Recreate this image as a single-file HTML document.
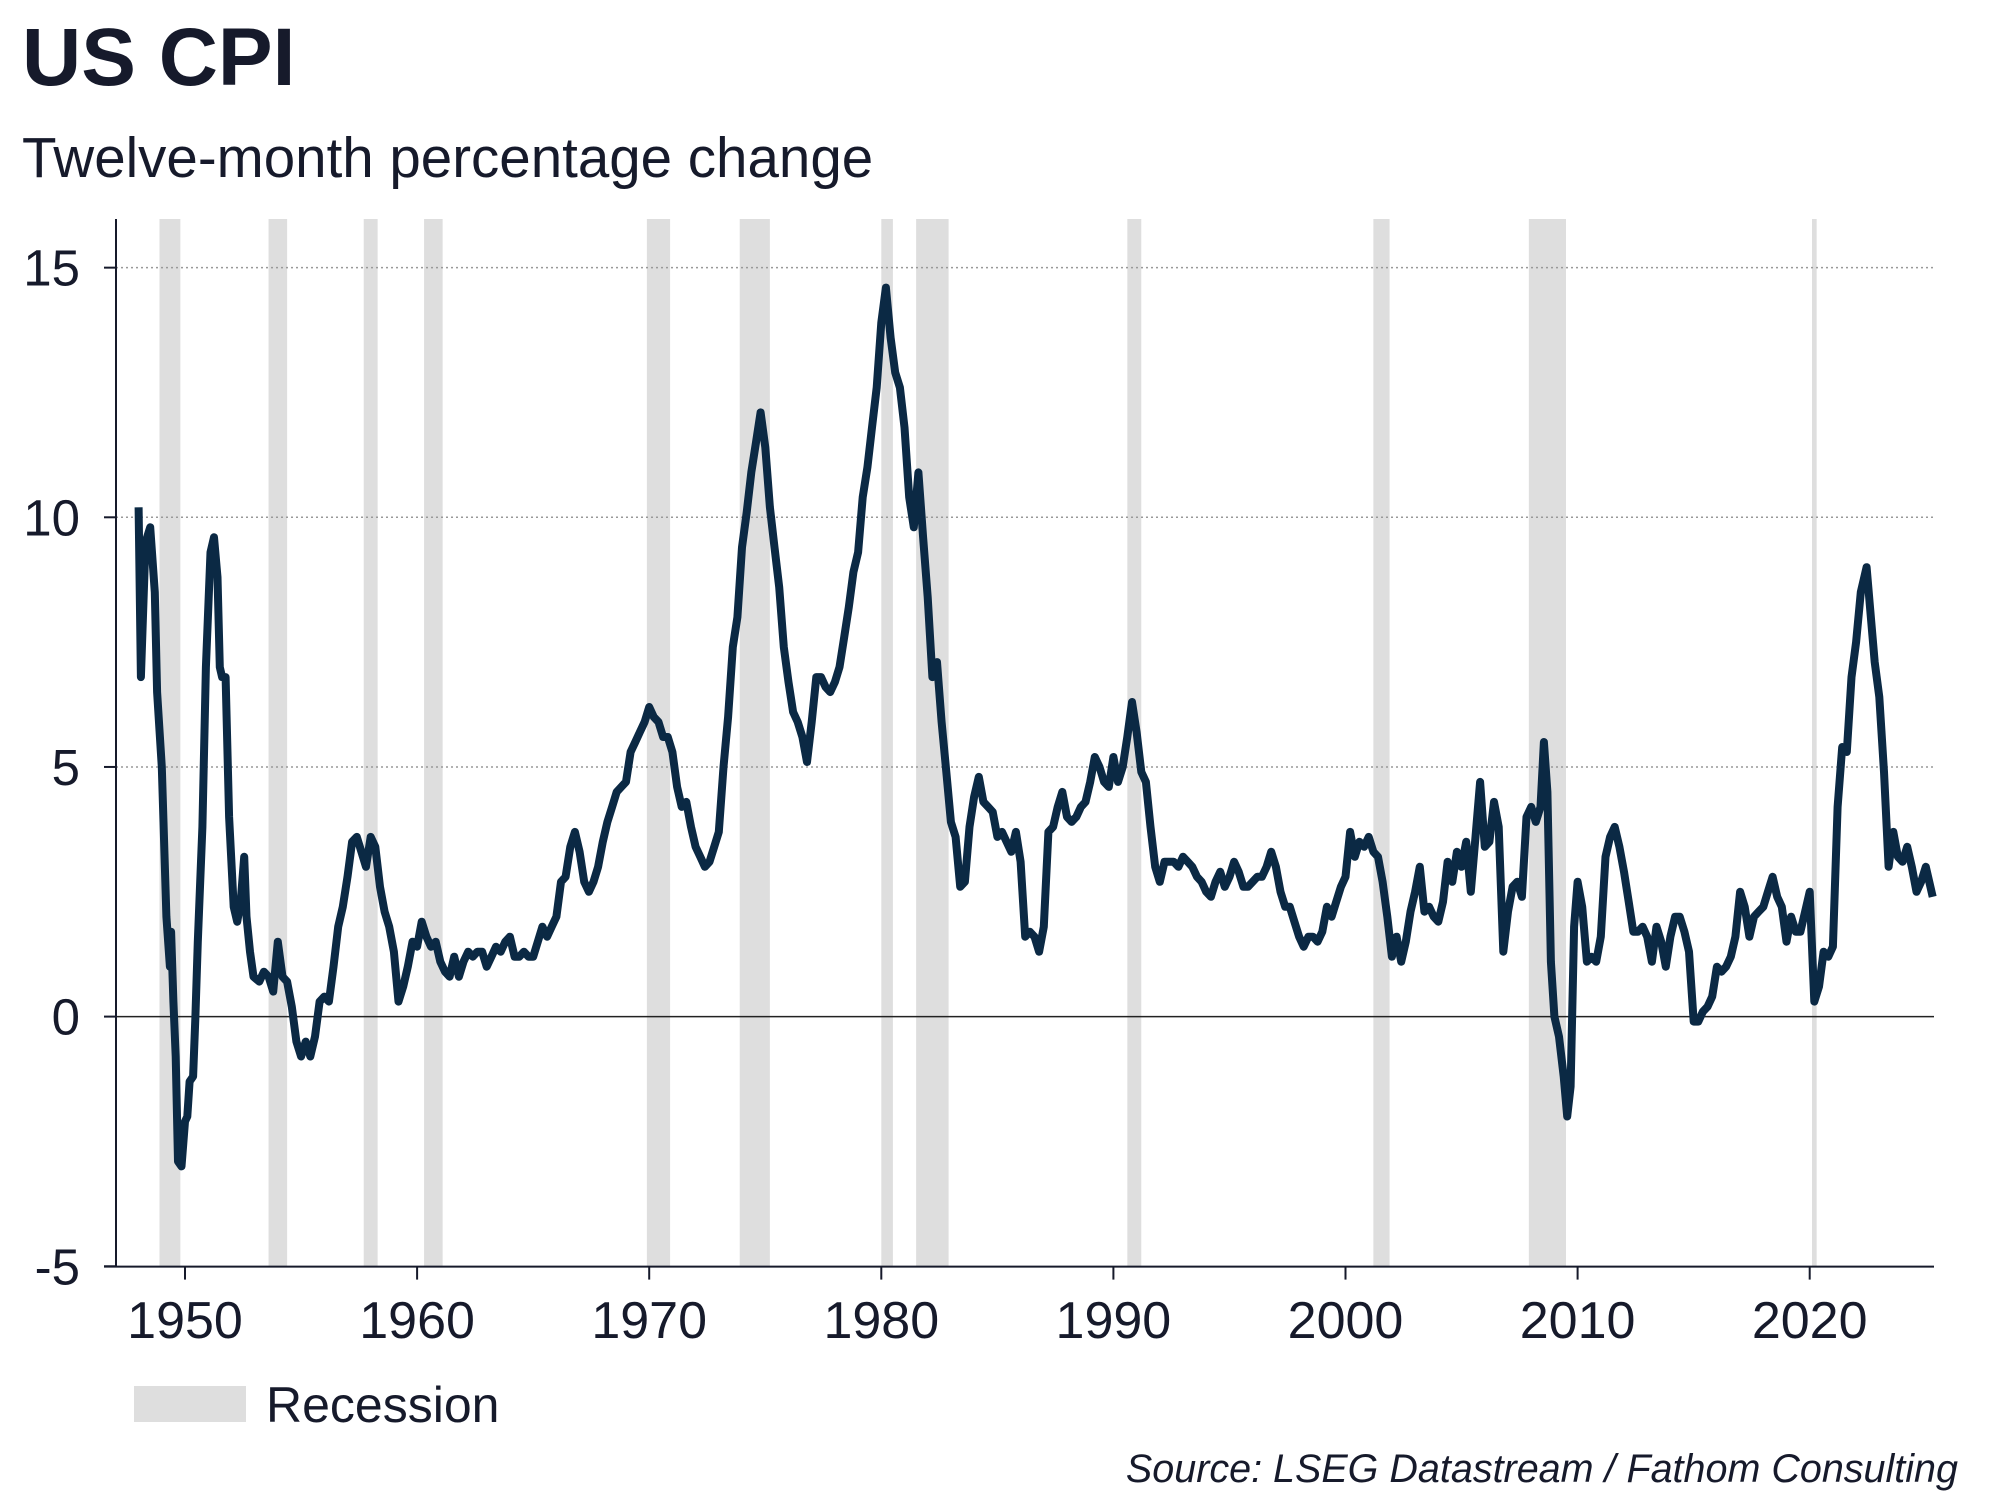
<!DOCTYPE html>
<html><head><meta charset="utf-8"><style>
html,body{margin:0;padding:0;background:#fff;}
body{width:2000px;height:1500px;overflow:hidden;position:relative;font-family:"Liberation Sans",Arial,sans-serif;color:#161a2b;}
</style></head><body>
<svg id="chart" width="2000" height="1500" viewBox="0 0 2000 1500" xmlns="http://www.w3.org/2000/svg" style="position:absolute;left:0;top:0">
<text x="22" y="85" font-size="82" font-weight="bold" fill="#161a2b" font-family="Liberation Sans, sans-serif">US CPI</text>
<text x="22" y="177" font-size="56.5" fill="#161a2b" font-family="Liberation Sans, sans-serif">Twelve-month percentage change</text>
<g id="bands"></g>
<g id="grid"></g>
<g id="axes"></g>
<path id="line" fill="none" stroke="#0b2944" stroke-width="8" stroke-linejoin="round"/>
<rect x="134" y="1386" width="112" height="36" fill="#dedede"/>
<text x="266" y="1422" font-size="50" fill="#161a2b" font-family="Liberation Sans, sans-serif">Recession</text>
<text x="1958" y="1482" text-anchor="end" font-size="39.5" font-style="italic" fill="#161a2b" font-family="Liberation Sans, sans-serif">Source: LSEG Datastream / Fathom Consulting</text>
</svg>
<script>
const yTicks=[-5,0,5,10,15];
const xTicks=[1950,1960,1970,1980,1990,2000,2010,2020];
const recStart=[1948.9,1953.6,1957.7,1960.3,1969.9,1973.9,1980.0,1981.5,1990.6,2001.2,2007.9,2020.1];
const recEnd=[1949.8,1954.4,1958.3,1961.1,1970.9,1975.2,1980.5,1982.9,1991.2,2001.9,2009.5,2020.3];
const years=[1948.0,1948.1,1948.3,1948.5,1948.7,1948.8,1949.0,1949.2,1949.35,1949.4,1949.5,1949.6,1949.7,1949.85,1950.0,1950.1,1950.2,1950.35,1950.45,1950.55,1950.75,1950.9,1951.1,1951.25,1951.4,1951.5,1951.6,1951.75,1951.9,1952.1,1952.25,1952.4,1952.55,1952.65,1952.8,1952.95,1953.2,1953.4,1953.6,1953.8,1954.0,1954.2,1954.4,1954.6,1954.8,1955.0,1955.2,1955.4,1955.6,1955.8,1956.0,1956.2,1956.4,1956.6,1956.8,1957.0,1957.2,1957.4,1957.6,1957.8,1958.0,1958.2,1958.4,1958.6,1958.8,1959.0,1959.2,1959.4,1959.6,1959.8,1960.0,1960.2,1960.4,1960.6,1960.8,1961.0,1961.2,1961.4,1961.6,1961.8,1962.0,1962.2,1962.4,1962.6,1962.8,1963.0,1963.2,1963.4,1963.6,1963.8,1964.0,1964.2,1964.4,1964.6,1964.8,1965.0,1965.2,1965.4,1965.6,1965.8,1966.0,1966.2,1966.4,1966.6,1966.8,1967.0,1967.2,1967.4,1967.6,1967.8,1968.0,1968.2,1968.4,1968.6,1968.8,1969.0,1969.2,1969.4,1969.6,1969.8,1970.0,1970.2,1970.4,1970.6,1970.8,1971.0,1971.2,1971.4,1971.6,1971.8,1972.0,1972.2,1972.4,1972.6,1972.8,1973.0,1973.2,1973.4,1973.6,1973.8,1974.0,1974.2,1974.4,1974.6,1974.8,1975.0,1975.2,1975.4,1975.6,1975.8,1976.0,1976.2,1976.4,1976.6,1976.8,1977.0,1977.2,1977.4,1977.6,1977.8,1978.0,1978.2,1978.4,1978.6,1978.8,1979.0,1979.2,1979.4,1979.6,1979.8,1980.0,1980.2,1980.4,1980.6,1980.8,1981.0,1981.2,1981.4,1981.6,1981.8,1982.0,1982.2,1982.4,1982.6,1982.8,1983.0,1983.2,1983.4,1983.6,1983.8,1984.0,1984.2,1984.4,1984.6,1984.8,1985.0,1985.2,1985.4,1985.6,1985.8,1986.0,1986.2,1986.4,1986.6,1986.8,1987.0,1987.2,1987.4,1987.6,1987.8,1988.0,1988.2,1988.4,1988.6,1988.8,1989.0,1989.2,1989.4,1989.6,1989.8,1990.0,1990.2,1990.4,1990.6,1990.8,1991.0,1991.2,1991.4,1991.6,1991.8,1992.0,1992.2,1992.4,1992.6,1992.8,1993.0,1993.2,1993.4,1993.6,1993.8,1994.0,1994.2,1994.4,1994.6,1994.8,1995.0,1995.2,1995.4,1995.6,1995.8,1996.0,1996.2,1996.4,1996.6,1996.8,1997.0,1997.2,1997.4,1997.6,1997.8,1998.0,1998.2,1998.4,1998.6,1998.8,1999.0,1999.2,1999.4,1999.6,1999.8,2000.0,2000.2,2000.4,2000.6,2000.8,2001.0,2001.2,2001.4,2001.6,2001.8,2002.0,2002.2,2002.4,2002.6,2002.8,2003.0,2003.2,2003.4,2003.6,2003.8,2004.0,2004.2,2004.4,2004.6,2004.8,2005.0,2005.2,2005.4,2005.6,2005.8,2006.0,2006.2,2006.4,2006.6,2006.8,2007.0,2007.2,2007.4,2007.6,2007.8,2008.0,2008.2,2008.4,2008.55,2008.7,2008.85,2009.0,2009.2,2009.4,2009.55,2009.7,2009.85,2010.0,2010.2,2010.4,2010.6,2010.8,2011.0,2011.2,2011.4,2011.6,2011.8,2012.0,2012.2,2012.4,2012.6,2012.8,2013.0,2013.2,2013.4,2013.6,2013.8,2014.0,2014.2,2014.4,2014.6,2014.8,2015.0,2015.2,2015.4,2015.6,2015.8,2016.0,2016.2,2016.4,2016.6,2016.8,2017.0,2017.2,2017.4,2017.6,2017.8,2018.0,2018.2,2018.4,2018.6,2018.8,2019.0,2019.2,2019.4,2019.6,2019.8,2020.0,2020.2,2020.4,2020.6,2020.8,2021.0,2021.2,2021.4,2021.6,2021.8,2022.0,2022.2,2022.45,2022.6,2022.8,2023.0,2023.2,2023.4,2023.6,2023.8,2024.0,2024.2,2024.4,2024.6,2024.8,2025.0,2025.1,2025.3];
const cpi=[10.2,6.8,9.5,9.8,8.5,6.5,5.0,2.0,1.0,1.7,0.3,-0.8,-2.9,-3.0,-2.1,-2.0,-1.3,-1.2,0,1.5,3.8,7.0,9.3,9.6,8.8,7.0,6.8,6.8,4.0,2.2,1.9,2.3,3.2,2.0,1.3,0.8,0.7,0.9,0.8,0.5,1.5,0.8,0.7,0.2,-0.5,-0.8,-0.5,-0.8,-0.4,0.3,0.4,0.3,1.0,1.8,2.2,2.8,3.5,3.6,3.3,3.0,3.6,3.4,2.6,2.1,1.8,1.3,0.3,0.6,1.0,1.5,1.4,1.9,1.6,1.4,1.5,1.1,0.9,0.8,1.2,0.8,1.1,1.3,1.2,1.3,1.3,1.0,1.2,1.4,1.3,1.5,1.6,1.2,1.2,1.3,1.2,1.2,1.5,1.8,1.6,1.8,2.0,2.7,2.8,3.4,3.7,3.3,2.7,2.5,2.7,3.0,3.5,3.9,4.2,4.5,4.6,4.7,5.3,5.5,5.7,5.9,6.2,6.0,5.9,5.6,5.6,5.3,4.6,4.2,4.3,3.8,3.4,3.2,3.0,3.1,3.4,3.7,5.0,6.0,7.4,8.0,9.4,10.1,10.9,11.5,12.1,11.4,10.2,9.4,8.6,7.4,6.7,6.1,5.9,5.6,5.1,5.9,6.8,6.8,6.6,6.5,6.7,7.0,7.6,8.2,8.9,9.3,10.4,11.0,11.8,12.6,13.9,14.6,13.6,12.9,12.6,11.8,10.4,9.8,10.9,9.6,8.4,6.8,7.1,5.9,4.9,3.9,3.6,2.6,2.7,3.8,4.4,4.8,4.3,4.2,4.1,3.6,3.7,3.5,3.3,3.7,3.1,1.6,1.7,1.6,1.3,1.8,3.7,3.8,4.2,4.5,4.0,3.9,4.0,4.2,4.3,4.7,5.2,5.0,4.7,4.6,5.2,4.7,5.0,5.6,6.3,5.7,4.9,4.7,3.8,3.0,2.7,3.1,3.1,3.1,3.0,3.2,3.1,3.0,2.8,2.7,2.5,2.4,2.7,2.9,2.6,2.8,3.1,2.9,2.6,2.6,2.7,2.8,2.8,3.0,3.3,3.0,2.5,2.2,2.2,1.9,1.6,1.4,1.6,1.6,1.5,1.7,2.2,2.0,2.3,2.6,2.8,3.7,3.2,3.5,3.4,3.6,3.3,3.2,2.7,2.0,1.2,1.6,1.1,1.5,2.1,2.5,3.0,2.1,2.2,2.0,1.9,2.3,3.1,2.7,3.3,3.0,3.5,2.5,3.6,4.7,3.4,3.5,4.3,3.8,1.3,2.1,2.6,2.7,2.4,4.0,4.2,3.9,4.2,5.5,4.5,1.1,0,-0.4,-1.2,-2.0,-1.4,1.8,2.7,2.2,1.1,1.2,1.1,1.6,3.2,3.6,3.8,3.4,2.9,2.3,1.7,1.7,1.8,1.6,1.1,1.8,1.5,1.0,1.6,2.0,2.0,1.7,1.3,-0.1,-0.1,0.1,0.2,0.4,1.0,0.9,1.0,1.2,1.6,2.5,2.2,1.6,2.0,2.1,2.2,2.5,2.8,2.4,2.2,1.5,2.0,1.7,1.7,2.1,2.5,0.3,0.6,1.3,1.2,1.4,4.2,5.4,5.3,6.8,7.5,8.5,9.0,8.2,7.1,6.4,4.9,3.0,3.7,3.2,3.1,3.4,3.0,2.5,2.7,3.0,2.8,2.4];

const X0=116,X1=1934,Y0=219,Y1=1266.6;
function xs(yr){return 185+(yr-1950)*23.21;}
function ys(v){return 1016.6-v*49.93;}
const NS='http://www.w3.org/2000/svg';
function mk(tag,parent){const e=document.createElementNS(NS,tag);parent.appendChild(e);return e;}
const bands=document.getElementById('bands');
for(let i=0;i<recStart.length;i++){
  const r=mk('rect',bands);
  
  
  r.setAttribute('x',xs(recStart[i]));r.setAttribute('y',Y0);
  r.setAttribute('width',Math.max(4,xs(recEnd[i])-xs(recStart[i])));
  r.setAttribute('height',Y1-Y0);r.setAttribute('fill','#dedede');
}
const grid=document.getElementById('grid');
const axes=document.getElementById('axes');
yTicks.forEach(t=>{
  const y=ys(t);
  if(t!==-5){
    const l=mk('line',grid);
    
    
    l.setAttribute('x1',X0);l.setAttribute('x2',X1);l.setAttribute('y1',y);l.setAttribute('y2',y);
    if(t===0){l.setAttribute('stroke','#222');l.setAttribute('stroke-width','1.5');}
    else{l.setAttribute('stroke','#999');l.setAttribute('stroke-width','1.5');l.setAttribute('stroke-dasharray','2 3');}
  }
  const tk=mk('line',axes);
  
  
  tk.setAttribute('x1',104);tk.setAttribute('x2',X0);tk.setAttribute('y1',y);tk.setAttribute('y2',y);
  tk.setAttribute('stroke','#161a2b');tk.setAttribute('stroke-width','2');
  const tx=mk('text',axes);
  
  
  tx.setAttribute('x',80);tx.setAttribute('y',y+18);tx.setAttribute('text-anchor','end');
  tx.setAttribute('font-size','51');tx.setAttribute('fill','#161a2b');
  tx.textContent=String(t);
});
xTicks.forEach(t=>{
  const x=xs(t);
  const tk=mk('line',axes);
  
  
  tk.setAttribute('x1',x);tk.setAttribute('x2',x);tk.setAttribute('y1',Y1);tk.setAttribute('y2',Y1+13);
  tk.setAttribute('stroke','#161a2b');tk.setAttribute('stroke-width','2');
  const tx=mk('text',axes);
  
  
  tx.setAttribute('x',x);tx.setAttribute('y',1338);tx.setAttribute('text-anchor','middle');
  tx.setAttribute('font-size','52');tx.setAttribute('fill','#161a2b');
  tx.textContent=String(t);
});
const ya=mk('line',axes);


ya.setAttribute('x1',X0);ya.setAttribute('x2',X0);ya.setAttribute('y1',Y0);ya.setAttribute('y2',Y1);
ya.setAttribute('stroke','#161a2b');ya.setAttribute('stroke-width','2');
const xa=mk('line',axes);


xa.setAttribute('x1',104);xa.setAttribute('x2',X1);xa.setAttribute('y1',Y1);xa.setAttribute('y2',Y1);
xa.setAttribute('stroke','#161a2b');xa.setAttribute('stroke-width','2');
let d='';
for(let i=0;i<years.length;i++){d+=(i?'L':'M')+xs(years[i]).toFixed(1)+' '+ys(cpi[i]).toFixed(1);}
document.getElementById('line').setAttribute('d',d);
</script>
</body></html>
